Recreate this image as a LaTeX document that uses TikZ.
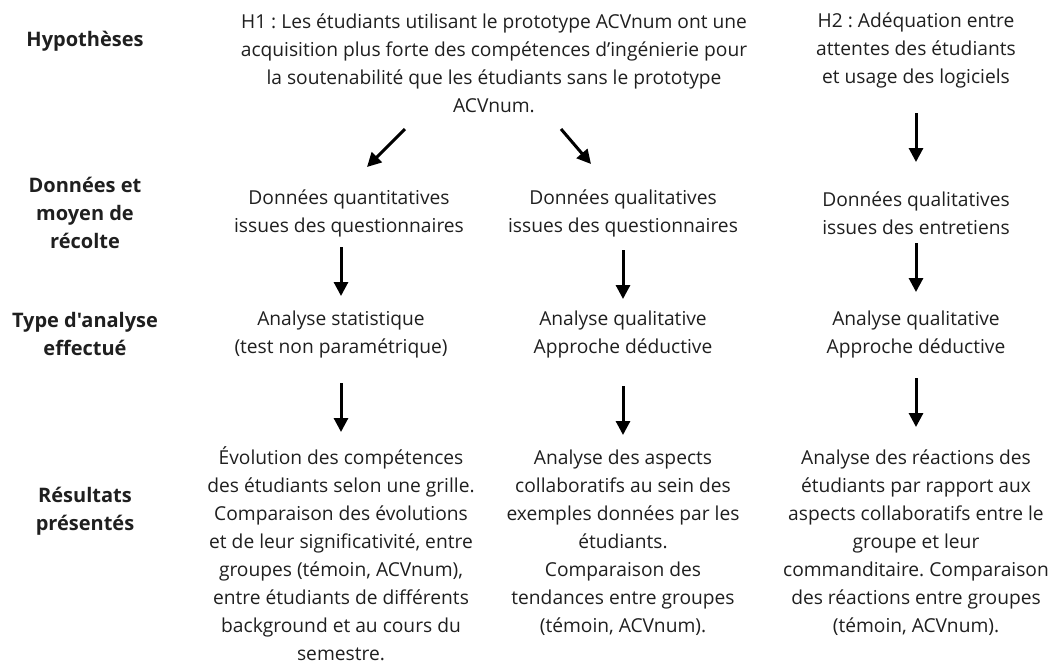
\documentclass[tikz,border=0pt]{standalone}
\usepackage{fontspec}
\setmainfont{Open Sans}[Ligatures=TeXOff]
\usetikzlibrary{arrows.meta}

\begin{document}
\frenchspacing
\begin{tikzpicture}[
    x=0.5pt, y=-0.5pt,
    txt/.style={align=center, inner sep=0pt, text=black!88, font=\fontsize{9.6}{14}\selectfont},
    rowlabel/.style={txt, font=\fontsize{10}{14}\selectfont\bfseries},
    arr/.style={->, line width=1.5pt},
    >={Triangle[width=7pt,length=7pt]}
  ]
  \useasboundingbox (0,0) rectangle (1059,666);

  % Row labels
  \node[rowlabel] (lhyp) at (85,41) {Hypothèses};
  \node[rowlabel] (ldon) at (85,213) {Données et\\moyen de\\récolte};
  \node[rowlabel] (ltyp) at (85,334) {Type d'analyse\\effectué};
  \node[rowlabel] (lres) at (85,511) {Résultats\\présentés};

  % Hypotheses
  \node[txt] (h1) at (494,63) {H1 : Les étudiants utilisant le prototype ACVnum ont une\\acquisition plus forte des compétences d’ingénierie pour\\la soutenabilité que les étudiants sans le prototype\\ACVnum.};
  \node[txt] (h2) at (916,50) {H2 : Adéquation entre\\attentes des étudiants\\et usage des logiciels};

  % Data
  \node[txt] (don1) at (349,213) {Données quantitatives\\issues des questionnaires};
  \node[txt] (don2) at (623,213) {Données qualitatives\\issues des questionnaires};
  \node[txt] (don3) at (916,213) {Données qualitatives\\issues des entretiens};

  % Analyses
  \node[txt] (ana1) at (341,334) {Analyse statistique\\(test non paramétrique)};
  \node[txt] (ana2) at (623,334) {Analyse qualitative\\Approche déductive};
  \node[txt] (ana3) at (916,334) {Analyse qualitative\\Approche déductive};

  % Results
  \node[txt] (res1) at (341,554) {Évolution des compétences\\des étudiants selon une grille.\\Comparaison des évolutions\\et de leur significativité, entre\\groupes (témoin, ACVnum),\\entre étudiants de différents\\background et au cours du\\semestre.};
  \node[txt] (res2) at (623,543) {Analyse des aspects\\collaboratifs au sein des\\exemples données par les\\étudiants.\\Comparaison des\\tendances entre groupes\\(témoin, ACVnum).};
  \node[txt] (res3) at (916,543) {Analyse des réactions des\\étudiants par rapport aux\\aspects collaboratifs entre le\\groupe et leur\\commanditaire. Comparaison\\des réactions entre groupes\\(témoin, ACVnum).};

  % Connections
  \draw[arr] ([shift={(-89,66)}]h1.center) -- ([shift={(18,-46)}]don1.center);
  \draw[arr] ([shift={(67,66)}]h1.center) -- ([shift={(-32,-49)}]don2.center);
  \draw[arr, shorten <=31.5pt, shorten >=25.5pt] (h2.center) -- (don3.center);
  \draw[arr, shorten <=17pt, shorten >=19pt] (ana1 |- don1) -- (ana1.center);
  \draw[arr, shorten <=18.5pt, shorten >=17.5pt] (don2.center) -- (ana2.center);
  \draw[arr, shorten <=15pt, shorten >=21pt] (don3.center) -- (ana3.center);
  \draw[arr, shorten <=24.5pt, shorten >=61pt] (ana1.center) -- (res1.center);
  \draw[arr, shorten <=26pt, shorten >=54pt] (ana2.center) -- (res2.center);
  \draw[arr, shorten <=22pt, shorten >=58pt] (ana3.center) -- (res3.center);
\end{tikzpicture}
\end{document}
